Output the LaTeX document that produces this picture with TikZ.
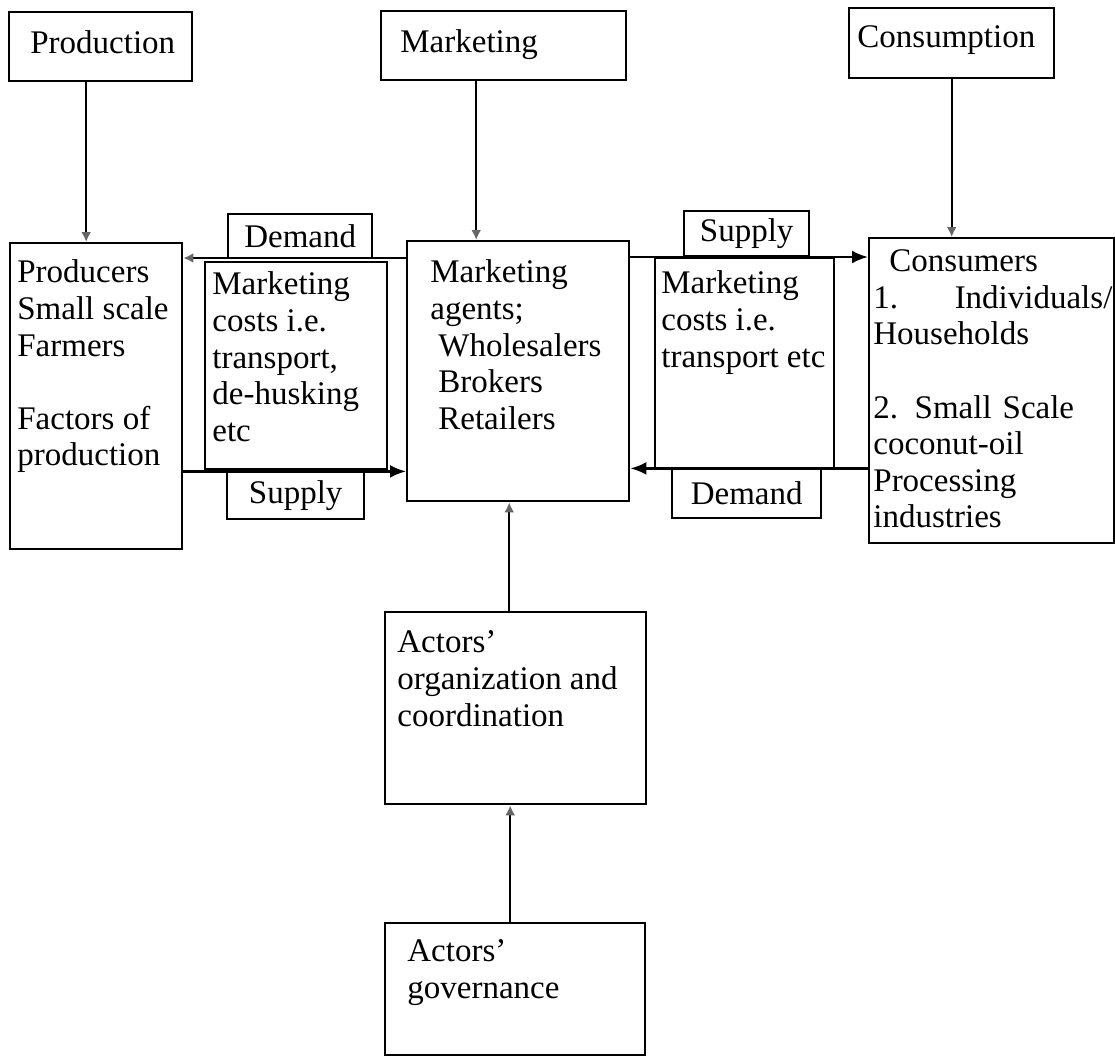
\documentclass[tikz,border=0pt]{standalone}
\usepackage{fontspec}
\setmainfont{Liberation Serif}
\usetikzlibrary{arrows.meta}
\newcommand{\boxfont}{\fontsize{16.5}{18.3}\selectfont}
\tikzset{
  box/.style={draw, line width=1.2pt, inner sep=0pt, anchor=north west},
  tag/.style={box, font=\boxfont},
  txt/.style={anchor=north west, align=left, inner sep=0pt, font=\boxfont},
  flow/.style={line width=1.2pt, -{Latex[length=8pt,width=6.5pt]}},
  feed/.style={line width=1pt, -{Latex[length=5pt,width=5pt,color=black!60]}}
}
\begin{document}
\begin{tikzpicture}[x=0.5pt,y=-0.5pt]
  \useasboundingbox (0,0) rectangle (1115,1056);

  \node[box, minimum width=91.5pt, minimum height=34.5pt] (prod) at (8,11) {};
  \node[box, minimum width=122.5pt, minimum height=34.5pt] (mkt) at (380,10) {};
  \node[box, minimum width=102.5pt, minimum height=35pt] (cons) at (848,7) {};
  \node[box, minimum width=86pt, minimum height=153pt] (producers) at (9,242) {};
  \node[box, minimum width=91pt, minimum height=103.5pt] (costs1) at (204,261) {};
  \node[box, minimum width=111pt, minimum height=130pt] (agents) at (406,240) {};
  \node[box, minimum width=89.5pt, minimum height=105pt] (costs2) at (654,257) {};
  \node[box, minimum width=122.5pt, minimum height=152.5pt] (consumers) at (868,237) {};
  \node[box, minimum width=130.5pt, minimum height=96pt] (org) at (384,611) {};
  \node[box, minimum width=130pt, minimum height=66pt] (gov) at (384,922) {};

  \node[tag, minimum width=72pt, minimum height=22pt] (dem1) at (227,213) {Demand};
  \node[tag, minimum width=68.5pt, minimum height=24pt] (sup1) at (226,470) {Supply};
  \node[tag, minimum width=62.5pt, minimum height=22.5pt] (sup2) at (683,210) {Supply};
  \node[tag, minimum width=74.5pt, minimum height=24.5pt] (dem2) at (671,468) {Demand};

  \node[txt] (prod-t) at ([shift={(11pt,-9.75pt)}]prod.north west) {Production};
  \node[txt] (mkt-t) at ([shift={(10pt,-9.75pt)}]mkt.north west) {Marketing};
  \node[txt] (cons-t) at ([shift={(4.5pt,-9.25pt)}]cons.north west) {Consumption};
  \node[txt] (producers-t) at ([shift={(4pt,-8.75pt)}]producers.north west)
    {Producers\\Small scale\\Farmers\\[18.3pt]Factors of\\production};
  \node[txt] (costs1-t) at ([shift={(4pt,-5.25pt)}]costs1.north west)
    {Marketing\\costs i.e.\\transport,\\de-husking\\etc};
  \node[txt] (agents-t) at ([shift={(12pt,-9.75pt)}]agents.north west)
    {Marketing\\agents;\\\hspace*{4pt}Wholesalers\\\hspace*{4pt}Brokers\\\hspace*{4pt}Retailers};
  \node[txt] (costs2-t) at ([shift={(3.5pt,-6.75pt)}]costs2.north west)
    {Marketing\\costs i.e.\\transport etc};
  \node[txt, text width=119.5pt] (consumers-t) at ([shift={(2.5pt,-6.25pt)}]consumers.north west)
    {\hspace*{8pt}Consumers\\1.\hfill Individuals/\\Households\\[18.3pt]2.\hspace{0.5em}Small Scale\\coconut-oil\\Processing\\industries};
  \node[txt] (org-t) at ([shift={(6.5pt,-9.75pt)}]org.north west)
    {Actors'\\organization and\\coordination};
  \node[txt] (gov-t) at ([shift={(11.5pt,-8.75pt)}]gov.north west)
    {Actors'\\governance};

  \coordinate (p1) at ([xshift=-7.25pt]prod.south);
  \coordinate (m1) at ([xshift=-13.75pt]mkt.south);
  \coordinate (o1) at ([xshift=-3.25pt]org.north);
  \coordinate (g1) at ([xshift=-2.5pt]gov.north);
  \draw[feed] (p1) -- (p1 |- producers.north);
  \draw[feed] (m1) -- (m1 |- agents.north);
  \draw[feed] (cons.south) -- (cons.south |- consumers.north);
  \draw[feed] (o1) -- (o1 |- agents.south);
  \draw[feed] (g1) -- (g1 |- org.south);

  \coordinate (d1) at ([yshift=-9pt]agents.north west);
  \coordinate (s1) at ([yshift=15.5pt]agents.south west);
  \coordinate (s2) at ([yshift=-8.5pt]agents.north east);
  \coordinate (d2) at ([yshift=17pt]agents.south east);
  \draw[feed] (d1) -- (d1 -| producers.east);
  \draw[flow] (s1 -| producers.east) -- (s1);
  \draw[flow] (s2) -- (s2 -| consumers.west);
  \draw[flow] (d2 -| consumers.west) -- (d2);
\end{tikzpicture}
\end{document}
